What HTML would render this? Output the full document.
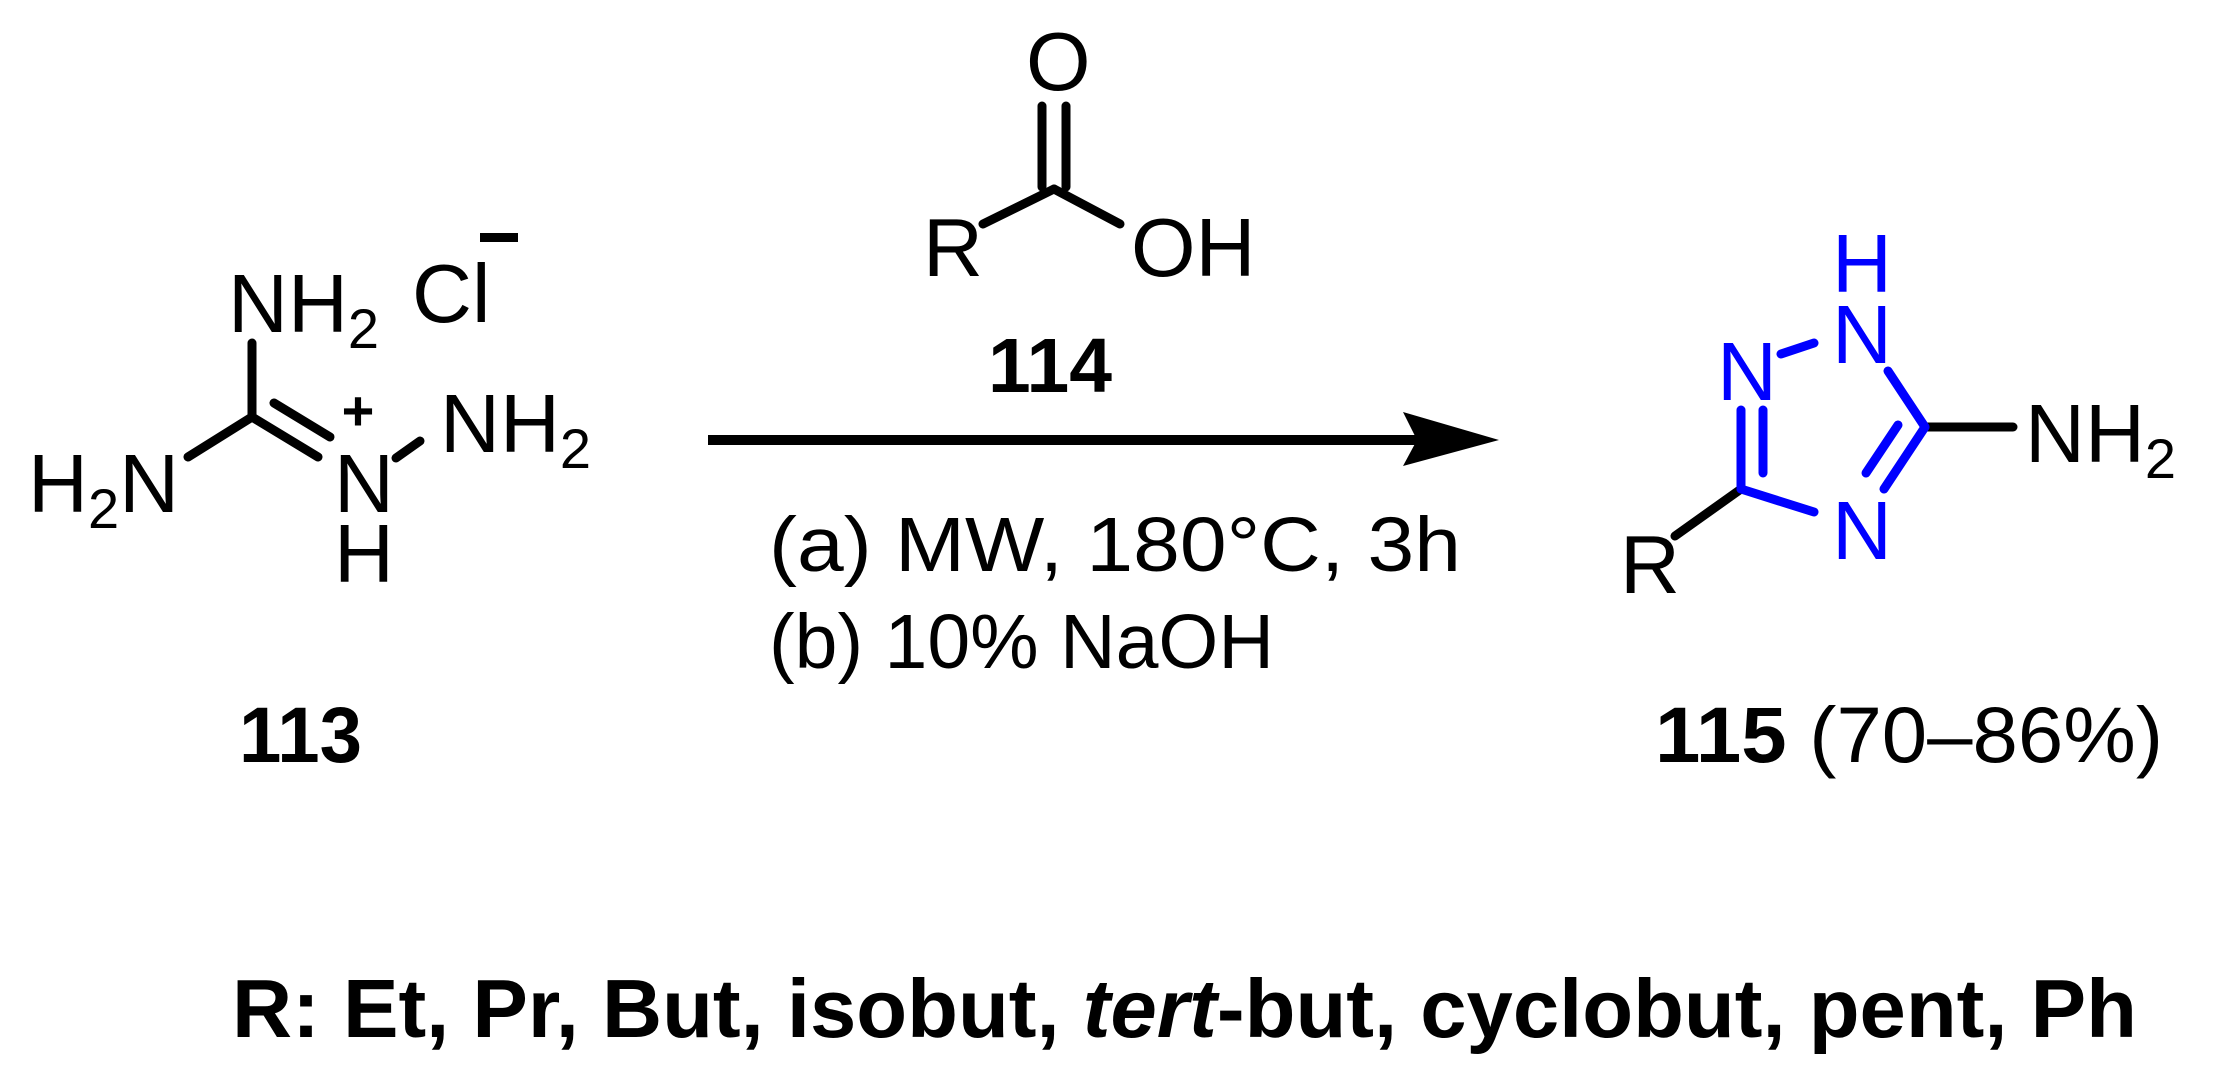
<!DOCTYPE html>
<html><head><meta charset="utf-8"><style>html,body{margin:0;padding:0;background:#fff}svg{display:block}</style></head><body>
<svg width="2215" height="1086" viewBox="0 0 2215 1086" xmlns="http://www.w3.org/2000/svg" font-family="Liberation Sans, Arial, sans-serif">
<rect width="2215" height="1086" fill="#fff"/>
<g stroke="#000" stroke-width="9" stroke-linecap="round" fill="none">
<line x1="252" y1="417" x2="252" y2="343"/>
<line x1="252" y1="417" x2="188" y2="457"/>
<line x1="252" y1="417" x2="318" y2="457"/>
<line x1="274" y1="403" x2="330" y2="437"/>
<line x1="396" y1="458" x2="420" y2="441"/>
<line x1="1042" y1="106" x2="1042" y2="187"/>
<line x1="1066" y1="106" x2="1066" y2="187"/>
<line x1="1054" y1="189" x2="983" y2="224"/>
<line x1="1054" y1="189" x2="1120" y2="224"/>
<line x1="1925" y1="427" x2="2013" y2="427"/>
<line x1="1741" y1="489" x2="1675" y2="536"/>
</g>
<line x1="708" y1="440" x2="1420" y2="440" stroke="#000" stroke-width="10"/>
<polygon points="1499,440 1403,412 1417,440 1403,466" fill="#000"/>
<g stroke="#0000ff" stroke-width="9" stroke-linecap="round" fill="none">
<line x1="1781" y1="354" x2="1814" y2="343"/>
<line x1="1888" y1="371" x2="1925" y2="427"/>
<line x1="1925" y1="427" x2="1884" y2="489"/>
<line x1="1898" y1="425" x2="1866" y2="473"/>
<line x1="1741" y1="489" x2="1814" y2="512"/>
<line x1="1741" y1="410" x2="1741" y2="489"/>
<line x1="1763" y1="410" x2="1763" y2="473"/>
</g>
<g font-size="83" fill="#000">
<text x="228" y="332">NH<tspan font-size="56" dy="16">2</tspan></text>
<text x="412" y="322">Cl</text>
<text x="28" y="512">H<tspan font-size="56" dy="16">2</tspan><tspan dy="-16">N</tspan></text>
<text x="334" y="512">N</text>
<text x="334" y="582">H</text>
<text x="440" y="452">NH<tspan font-size="56" dy="16">2</tspan></text>
<text x="1026" y="90">O</text>
<text x="923" y="276">R</text>
<text x="1131" y="276">OH</text>
<text x="2025" y="462">NH<tspan font-size="56" dy="16">2</tspan></text>
<text x="1620" y="593">R</text>
</g>
<rect x="480" y="233" width="38" height="9" fill="#000"/>
<text x="358" y="430" font-size="56" font-weight="bold" text-anchor="middle">+</text>
<g font-size="83" fill="#0000ff">
<text x="1832" y="292">H</text>
<text x="1832" y="363">N</text>
<text x="1717" y="400">N</text>
<text x="1832" y="559">N</text>
</g>
<text x="988" y="392" font-size="77" font-weight="bold" textLength="124" lengthAdjust="spacingAndGlyphs">114</text>
<text x="769" y="571" font-size="77" textLength="692" lengthAdjust="spacingAndGlyphs">(a) MW, 180°C, 3h</text>
<text x="769" y="668" font-size="77">(b) 10% NaOH</text>
<text x="239" y="762" font-size="79" font-weight="bold" textLength="123" lengthAdjust="spacingAndGlyphs">113</text>
<text x="1655" y="762" font-size="79" textLength="508" lengthAdjust="spacingAndGlyphs"><tspan font-weight="bold">115</tspan> (70–86%)</text>
<text x="232" y="1037" font-size="83" font-weight="bold" textLength="1905" lengthAdjust="spacingAndGlyphs">R: Et, Pr, But, isobut, <tspan font-style="italic">tert</tspan>-but, cyclobut, pent, Ph</text>
</svg>
</body></html>
